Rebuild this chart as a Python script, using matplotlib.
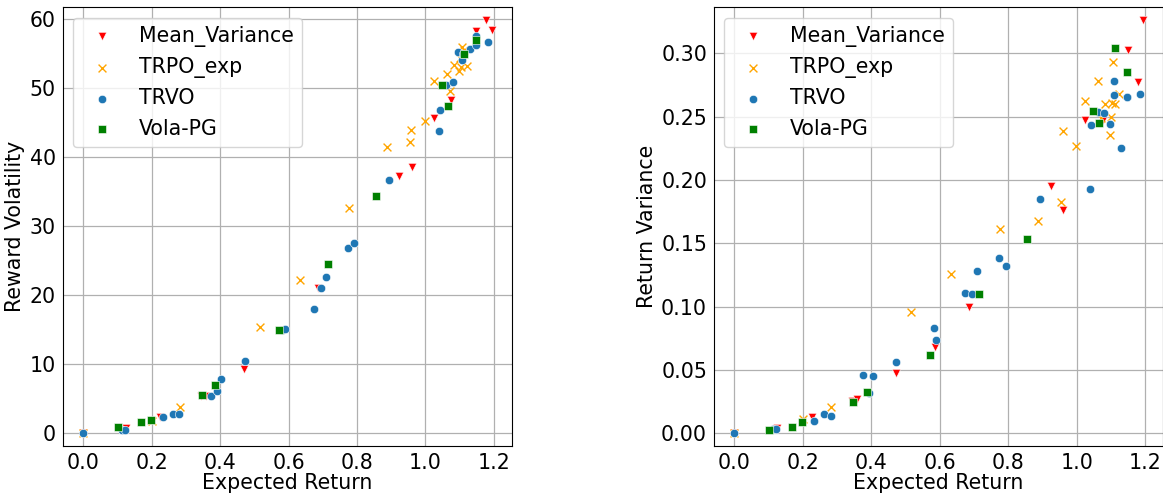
import matplotlib
matplotlib.use("Agg")
import matplotlib.pyplot as plt

# expected return / reward volatility / return variance for each method
mv_ret = [0.0, 0.125, 0.226, 0.345, 0.358, 0.471, 0.586, 0.685, 0.924, 0.961, 1.025, 1.076, 1.149, 1.178, 1.193]
mv_vol = [0.0, 0.8, 2.4, 5.4, 5.4, 9.3, 15.0, 21.1, 37.2, 38.6, 45.7, 48.3, 58.3, 59.9, 58.4]
mv_var = [0.0, 0.0044, 0.0126, 0.0257, 0.0268, 0.048, 0.0683, 0.0994, 0.195, 0.176, 0.2476, 0.2476, 0.303, 0.277, 0.3265]

tr_ret = [0.0, 0.201, 0.283, 0.516, 0.634, 0.777, 0.887, 0.954, 0.959, 0.998,
          1.025, 1.062, 1.071, 1.083, 1.098, 1.100, 1.103, 1.107, 1.112, 1.122]
tr_vol = [0.0, 1.8, 3.8, 15.4, 22.2, 32.7, 41.5, 42.2, 44.0, 45.3,
          51.1, 52.1, 49.6, 53.4, 52.5, 54.3, 53.0, 56.0, 55.5, 53.2]
tr_var = [0.0, 0.011, 0.021, 0.0959, 0.1254, 0.161, 0.1677, 0.1826, 0.2386, 0.2266,
          0.2623, 0.278, 0.249, 0.260, 0.2355, 0.2497, 0.2607, 0.293, 0.2597, 0.2676]

tv_ret = [0.0, 0.114, 0.121, 0.232, 0.263, 0.281, 0.375, 0.392, 0.404, 0.473,
          0.582, 0.590, 0.675, 0.694, 0.709, 0.774, 0.792, 0.893,
          1.040, 1.043, 1.061, 1.081, 1.096, 1.108, 1.110, 1.130, 1.147, 1.148, 1.184]
tv_vol = [0.0, 0.5, 0.5, 2.3, 2.8, 2.8, 5.4, 6.2, 7.8, 10.5,
          15.0, 15.1, 18.0, 21.1, 22.6, 26.8, 27.5, 36.7,
          43.8, 46.9, 50.5, 50.9, 55.3, 54.1, 55.0, 55.7, 56.3, 57.6, 56.7]
tv_var = [0.0, 0.0034, 0.0034, 0.0099, 0.0152, 0.0136, 0.046, 0.0315, 0.0454, 0.0565,
          0.0833, 0.074, 0.1109, 0.1099, 0.1278, 0.1383, 0.1322, 0.1848,
          0.193, 0.2437, 0.254, 0.253, 0.2445, 0.267, 0.278, 0.225, 0.2655, 0.2655, 0.2676]

vp_ret = [0.102, 0.168, 0.197, 0.347, 0.386, 0.571, 0.714, 0.856, 1.048, 1.065, 1.112, 1.147]
vp_vol = [0.9, 1.7, 2.0, 5.5, 7.0, 15.0, 24.5, 34.4, 50.5, 47.4, 54.9, 56.9]
vp_var = [0.0026, 0.0047, 0.0087, 0.0249, 0.0328, 0.0617, 0.1099, 0.1532, 0.2544, 0.245, 0.3044, 0.285]

names = ["Mean_Variance", "TRPO_exp", "TRVO", "Vola-PG"]

fs = 14.8
fig = plt.figure(figsize=(11.63, 4.93), dpi=100)
ax1 = fig.add_axes([0.0539, 0.0959, 0.3863, 0.8892])
ax2 = fig.add_axes([0.6139, 0.0959, 0.3863, 0.8892])

series = [
    (mv_ret, mv_vol, mv_var, "red", "v"),
    (tr_ret, tr_vol, tr_var, "orange", "x"),
    (tv_ret, tv_vol, tv_var, "tab:blue", "o"),
    (vp_ret, vp_vol, vp_var, "green", "s"),
]

for ax, col in [(ax1, 1), (ax2, 2)]:
    for s, name in zip(series, names):
        if s[4] == "x":
            ax.scatter(s[0], s[col], c=s[3], marker="x", s=32, linewidths=1.0, label=name)
        else:
            ax.scatter(s[0], s[col], c=s[3], marker=s[4], s=36,
                       edgecolors="white", linewidths=0.4, label=name)
    ax.margins(x=0.05, y=0.03)
    ax.grid(True, color="#b0b0b0", linewidth=0.9)
    ax.set_axisbelow(True)
    ax.tick_params(length=0, labelsize=fs, pad=5)
    ax.set_xticks([0.0, 0.2, 0.4, 0.6, 0.8, 1.0, 1.2])
    ax.set_xlabel("Expected Return", fontsize=fs, labelpad=0)
    ax.legend(loc="upper left", fontsize=fs)
    for sp in ax.spines.values():
        sp.set_color("black")

ax1.set_ylabel("Reward Volatility", fontsize=fs, labelpad=3)
ax2.set_ylabel("Return Variance", fontsize=fs, labelpad=3)

fig.savefig("out.png", dpi=100)
